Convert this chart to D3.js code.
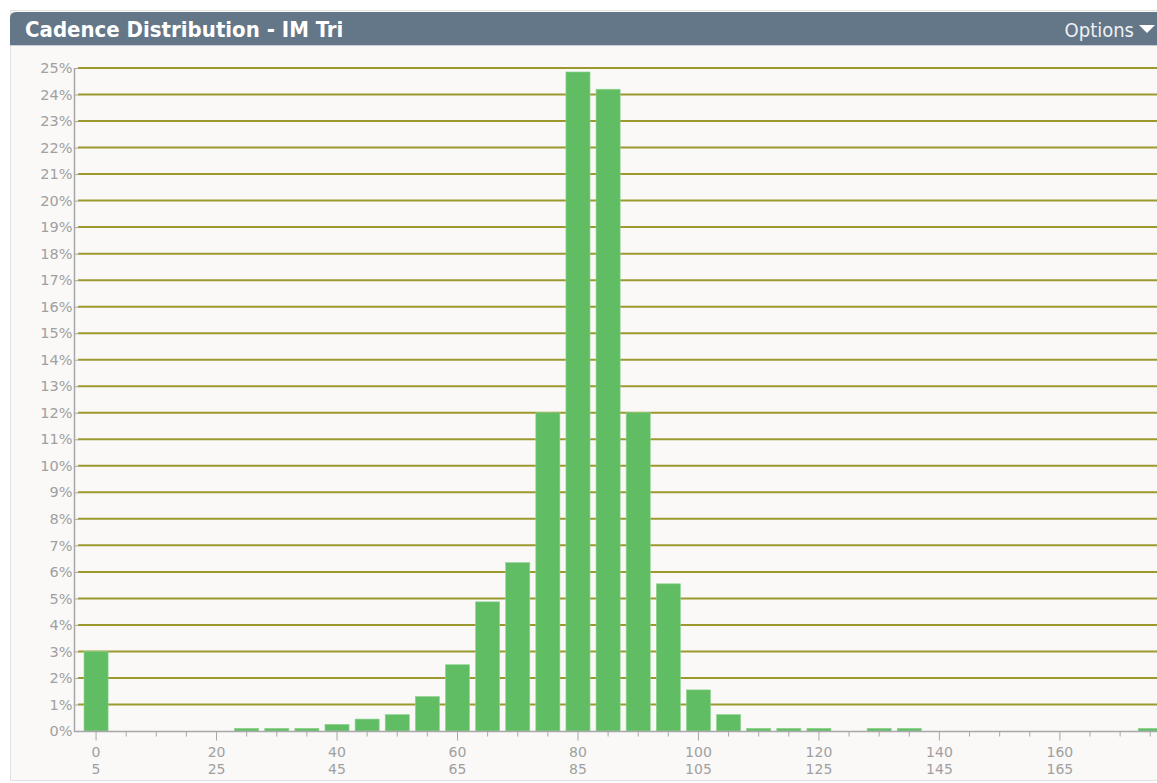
<!DOCTYPE html>
<html><head><meta charset="utf-8">
<script src="https://cdn.jsdelivr.net/npm/d3@7/dist/d3.min.js"></script>
<style>
html,body{margin:0;padding:0;background:#ffffff;overflow:hidden;}
svg{display:block;}
</style></head>
<body>
<svg id="chart" width="1157" height="783"></svg>
<script>
const title = "Cadence Distribution - IM Tri";
const optionsLabel = "Options";
const binStarts = [0,5,10,15,20,25,30,35,40,45,50,55,60,65,70,75,80,85,90,95,100,105,110,115,120,125,130,135,140,145,150,155,160,165,170,175];
const percentValues = [3.0,0,0,0,0,0.1,0.1,0.1,0.25,0.45,0.62,1.3,2.5,4.87,6.35,12.0,24.85,24.2,12.0,5.55,1.55,0.62,0.1,0.1,0.1,0,0.1,0.1,0,0,0,0,0,0,0,0.1];
const yTicks = [0,1,2,3,4,5,6,7,8,9,10,11,12,13,14,15,16,17,18,19,20,21,22,23,24,25];
const labelEvery = 4;

const svg = d3.select("#chart");
const W = 1157, H = 783;
const condensed = "'DejaVu Sans Condensed','DejaVu Sans',sans-serif";
const regular = "'DejaVu Sans',sans-serif";

// panel background
svg.append("rect").attr("x",0).attr("y",0).attr("width",W).attr("height",H).attr("fill","#ffffff");
svg.append("rect").attr("x",10.5).attr("y",10.5).attr("width",W).attr("height",770).attr("fill","#faf9f8").attr("stroke","#e2e2e2");
// title bar
svg.append("path")
  .attr("d","M10,45 L10,18 Q10,12 16,12 L1157,12 L1157,45 Z")
  .attr("fill","#647789");
svg.append("line").attr("x1",10).attr("x2",W).attr("y1",45.5).attr("y2",45.5).attr("stroke","#c9ced3");
svg.append("text").attr("x",25).attr("y",37).attr("fill","#ffffff")
  .attr("font-family",condensed).attr("font-weight","bold").attr("font-size",22)
  .text(title);
svg.append("text").attr("x",1134).attr("y",37).attr("fill","#eef0f2").attr("text-anchor","end")
  .attr("font-family",condensed).attr("font-size",20)
  .text(optionsLabel);
svg.append("path").attr("d","M1139,25 L1155,25 L1147,33 Z").attr("fill","#ffffff");

const x0 = 81, step = 30.12;
const x = d3.scaleBand().domain(binStarts).range([x0, x0 + step*binStarts.length]).paddingInner(0.2).paddingOuter(0.1);
const y = d3.scaleLinear().domain([0,25]).range([731,68]);

const plot = svg.append("g");
const clip = svg.append("clipPath").attr("id","clipP");
clip.append("rect").attr("x",0).attr("y",46).attr("width",W).attr("height",H-46);

// gridlines
plot.append("g").selectAll("line").data(yTicks.filter(d=>d>0)).join("line")
  .attr("x1",78).attr("x2",W).attr("y1",d=>y(d)).attr("y2",d=>y(d))
  .attr("stroke","#9c9a2e").attr("stroke-width",2);

// bars
plot.append("g").attr("clip-path","url(#clipP)").selectAll("rect").data(binStarts).join("rect")
  .attr("x",d=>x(d)).attr("width",x.bandwidth())
  .attr("y",(d,i)=>y(percentValues[i])).attr("height",(d,i)=>y(0)-y(percentValues[i]))
  .attr("fill","#60bd64").attr("stroke","#8fd68f").attr("stroke-width",0.6);

// y axis
const yAxis = d3.axisLeft(y).tickValues(yTicks).tickSize(4).tickPadding(2).tickFormat(d=>d+"%");
const gy = svg.append("g").attr("transform","translate(78.5,0)").call(yAxis);
gy.select(".domain").attr("stroke","#a8a8a8").attr("stroke-width",1.5).attr("d","M-4,68V731.5H0");
gy.selectAll(".tick line").attr("stroke","#a8a8a8");
gy.selectAll("text").attr("fill","#a0a0a0").attr("font-family",regular).attr("font-size",14.5);

// x axis
const xAxis = d3.axisBottom(x).tickSize(5).tickFormat("");
const gx = svg.append("g").attr("transform","translate(0,731.5)").call(xAxis);
gx.select(".domain").attr("stroke","#a8a8a8").attr("stroke-width",1.5).attr("d","M78,0H"+W);
gx.selectAll(".tick line").attr("stroke","#a8a8a8").attr("y2",(d,i)=>i%labelEvery===0?9:5);
const lbl = gx.selectAll(".tick").filter((d,i)=>i%labelEvery===0);
lbl.append("text").attr("y",25.5).attr("fill","#a0a0a0").attr("font-family",regular).attr("font-size",14).attr("text-anchor","middle").text(d=>d);
lbl.append("text").attr("y",42.5).attr("fill","#a0a0a0").attr("font-family",regular).attr("font-size",14).attr("text-anchor","middle").text(d=>d+5);
</script>
</body></html>
